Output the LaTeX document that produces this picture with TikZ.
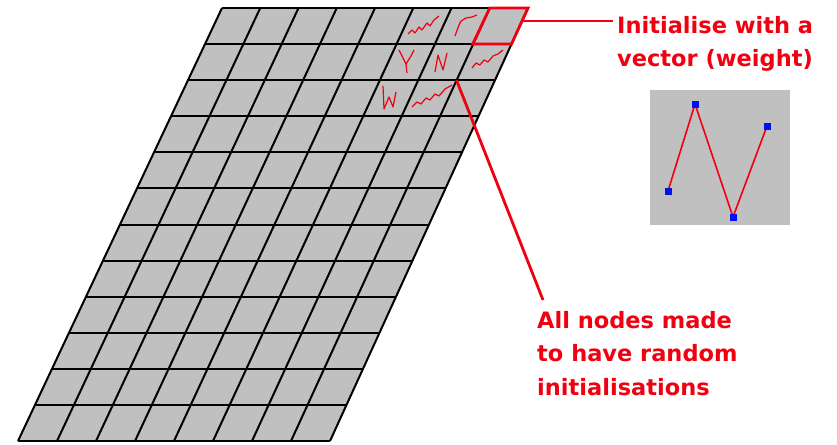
\documentclass[tikz,border=0pt]{standalone}
\usepackage{fontspec}
\usepackage{tikz}
\usetikzlibrary{calc}
\newfontfamily\lblfont{DejaVu Sans}[BoldFont={DejaVu Sans Bold}]
\definecolor{somred}{HTML}{F00010}
\definecolor{somgray}{HTML}{C0C0C0}
\definecolor{somblue}{HTML}{0010F0}

\begin{document}
\begin{tikzpicture}[x=1pt, y=-1pt,
    gridline/.style={black, line width=2pt},
    redline/.style={somred, line width=2.8pt},
    squig/.style={somred, line width=1.2pt, line join=round},
    lbl/.style={somred, font=\lblfont\bfseries\fontsize{22.5}{33.5}\selectfont,
                align=left, inner xsep=0pt, inner ysep=0pt, anchor=north west},
    wpt/.style={fill=somblue, minimum size=7pt, inner sep=0pt}]
    \useasboundingbox (0,0) rectangle (837,444);

    % the map (12 rows x 8 columns, slanted)
    \fill[somgray] (222,8) -- (528,8) -- (330,441) -- (18,441) -- cycle;
    \foreach \r in {0,...,12}
        \draw[gridline] ({222-204*\r/12},{8+433*\r/12}) -- ({528-198*\r/12},{8+433*\r/12});
    \foreach \c in {0,...,8}
        \draw[gridline] ({222+38.25*\c},8) -- ({18+39*\c},441);

    % random weights in a few cells
    \draw[squig, shift={(424,26)}] (-16,8) -- (-12,4) -- (-9,7) -- (-5,1) -- (-2,4)
        -- (3,-3) -- (6,0) -- (10,-6) -- (15,-10);
    \draw[squig, shift={(461,27)}] (-6,9) -- (-2,-2) -- (0,-6) -- (5,-9) -- (11,-10) -- (16,-12);
    \draw[squig, shift={(408,62)}] (-9,-12) -- (-5,-4) -- (-2,2) -- (3,-6) -- (6,-12);
    \draw[squig, shift={(408,62)}] (-2,2) -- (-1,11);
    \draw[squig, shift={(444,63)}] (-9,9) -- (-6,-8) -- (-1,7) -- (3,-10);
    \draw[squig, shift={(486,60)}] (-14,8) -- (-10,3) -- (-6,5) -- (-2,0) -- (2,2)
        -- (7,-4) -- (12,-6) -- (17,-10);
    \draw[squig, shift={(390,98)}] (-7,-12) -- (-6,11) -- (-1,-1) -- (3,9) -- (6,-6);
    \draw[squig, shift={(430,97)}] (-18,10) -- (-13,5) -- (-9,7) -- (-4,1) -- (0,3)
        -- (5,-3) -- (9,-1) -- (15,-8) -- (22,-12);

    % chosen node
    \draw[redline, line join=miter] (489.75,8) -- (528,8) -- (511.5,44.1) -- (472.7,44.1) -- cycle;
    \coordinate (boxR) at (522.5,21);
    \coordinate (v72) at (456.5,80.2);

    % labels
    \node[lbl, inner xsep=4pt] (init) at (613,16) {Initialise with a\\vector (weight)};
    \node[lbl] (rand) at (537,311) {All nodes made\\to have random\\initialisations};

    \draw[redline] (boxR) -- (boxR -| init.west);
    \draw[redline] (v72) -- ([xshift=6pt, yshift=11pt]rand.north west);

    % weight vector
    \fill[somgray] (650,90) rectangle (790,225);
    \coordinate (w1) at (668,191);
    \coordinate (w2) at (695,104);
    \coordinate (w3) at (733,217);
    \coordinate (w4) at (767,126);
    \draw[somred, line width=1.6pt] (w1) -- (w2) -- (w3) -- (w4);
    \foreach \p in {w1,w2,w3,w4}
        \node[wpt] at (\p) {};
\end{tikzpicture}
\end{document}
